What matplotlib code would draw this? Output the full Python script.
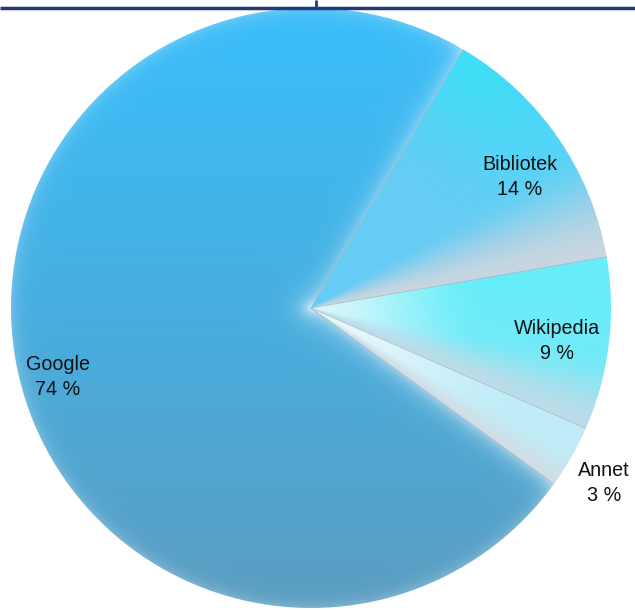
import numpy as np
import matplotlib
matplotlib.use('Agg')
import matplotlib.pyplot as plt
from matplotlib.colors import to_rgb

# data
sources = ['Bibliotek', 'Wikipedia', 'Annet', 'Google']
shares = [13.8, 9.3, 3.4, 73.5]
pct_labels = ['14 %', '9 %', '3 %', '74 %']

W, H = 635, 610
cx, cy, R = 311, 302, 300

plt.rcParams['font.family'] = ['Liberation Sans', 'DejaVu Sans']

fig = plt.figure(figsize=(W / 100, H / 100), dpi=100)
ax = fig.add_axes([0, 0, 1, 1])

wedges, _ = ax.pie(shares, center=(cx, cy), radius=R, startangle=59.5,
                   counterclock=False, frame=True,
                   wedgeprops=dict(linewidth=0))
ax.set_xlim(0, W)
ax.set_ylim(0, H)
ax.set_aspect('equal')
ax.axis('off')

# pixel grid for the shaded fills
X, Y = np.meshgrid(np.arange(W) + 0.5, np.arange(H) + 0.5)
dx, dy = X - cx, Y - cy
rr = np.hypot(dx, dy) / R
ang = np.degrees(np.arctan2(dy, dx)) % 360
yfrac = (cy + R - Y) / (2 * R)  # 0 at top, 1 at bottom


def col(c):
    if isinstance(c, str):
        return np.array(to_rgb(c))
    return c


def mix(c1, c2, t):
    c1 = col(c1)
    c2 = col(c2)
    t = np.clip(t, 0, 1)[..., None]
    return c1 * (1 - t) + c2 * t


def smooth(t):
    t = np.clip(t, 0, 1)
    return t * t * (3 - 2 * t)


def edge_dist(a):
    # distance from the ray leaving the centre at angle a
    d = np.radians(ang - a)
    perp = np.abs(rr * R * np.sin(d))
    return np.where(np.cos(d) > 0, perp, rr * R)


for w, name in zip(wedges, sources):
    span = (w.theta2 - w.theta1) % 360
    a = ((ang - w.theta1) % 360) / span  # 0 at clockwise end, 1 at start
    if name == 'Google':
        img = mix('#3abdf8', '#5a9cc0', yfrac ** 1.2)
        glow = 0.35 * np.exp(-edge_dist(w.theta1) / 9.0)
        glow += 0.45 * np.exp(-edge_dist(w.theta2) / 9.0)
        glow += 0.22 * np.exp(-(1 - rr) * R / 7.0)
    elif name == 'Bibliotek':
        main = mix('#66ccf5', '#40def8', smooth((rr - 0.5) / 0.5) * smooth(a))
        img = mix('#c8d6e0', main, smooth(a / 0.45))
        glow = 0.0 * rr
    elif name == 'Wikipedia':
        main = mix('#7ae8f8', '#66eefa', smooth(a))
        main = mix('#d6f8fc', main, smooth(rr / 0.6))
        img = mix('#bcdce8', main, smooth(a / 0.45))
        glow = 0.0 * rr
    else:
        main = mix('#e8f9fd', '#c0ecf8', smooth(rr / 0.8))
        img = mix('#d0dee6', main, smooth(a / 0.6))
        glow = 0.0 * rr

    img = img * (1 - glow[..., None]) + glow[..., None]

    im = ax.imshow(np.clip(img, 0, 1), extent=(0, W, 0, H), origin='lower',
                   interpolation='bilinear', zorder=1)
    im.set_clip_path(w)
    w.set_facecolor('none')

# thin grey seams between the slices
for w in wedges:
    t = np.radians(w.theta1)
    ax.plot([cx, cx + R * np.cos(t)], [cy, cy + R * np.sin(t)],
            color='#9aaab8', lw=0.5, alpha=0.8, zorder=2)

# labels
label_xy = {'Bibliotek': (520, 177), 'Wikipedia': (557, 341),
            'Annet': (604, 483), 'Google': (58, 377)}
for name, pl in zip(sources, pct_labels):
    x, y = label_xy[name]
    ax.text(x, H - y, f'{name}\n{pl}', ha='center', va='center',
            fontsize=14.2, color='#111111', linespacing=1.35, zorder=3)

# table border at the top
ax.plot([0, W], [H - 8, H - 8], color='#1f3b78', lw=2.5, zorder=4,
        solid_capstyle='butt')
ax.plot([316, 316], [H - 8, H], color='#1f3b78', lw=2, zorder=4,
        solid_capstyle='butt')

fig.savefig('out.png', dpi=100)
